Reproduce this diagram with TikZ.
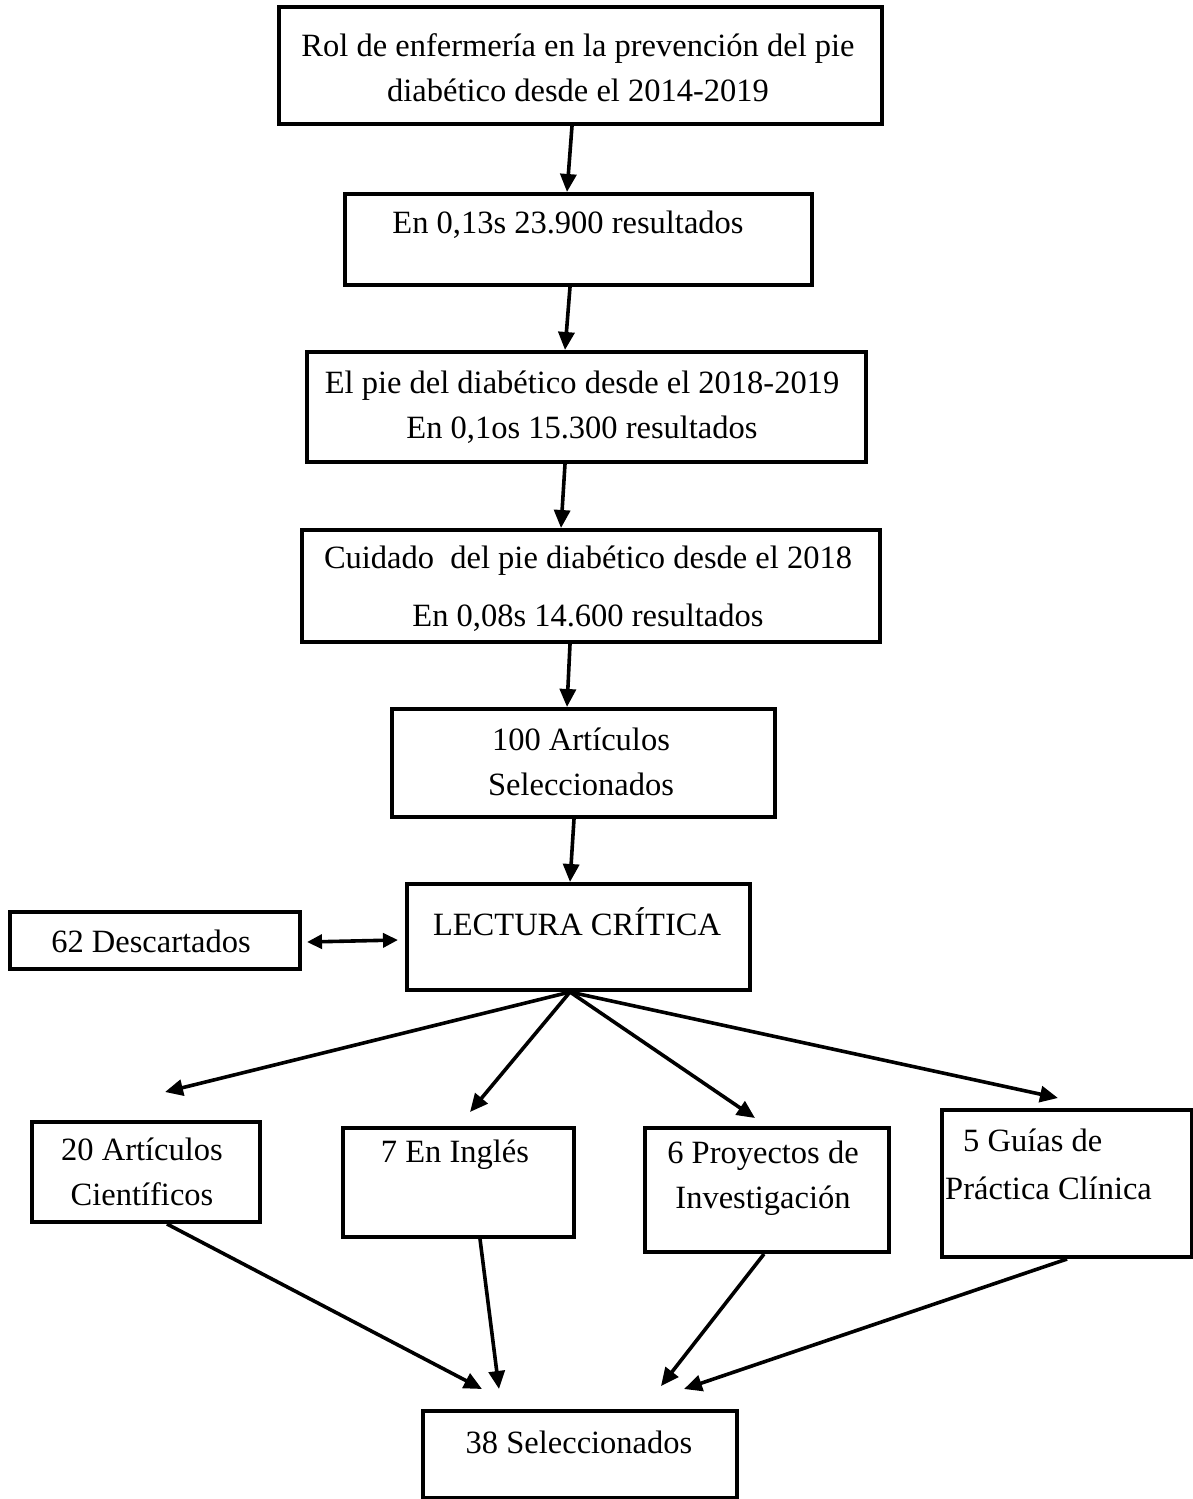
\documentclass[tikz,border=0pt]{standalone}
\usepackage{fontspec}
\setmainfont{Liberation Serif}
\usetikzlibrary{arrows.meta,calc}
\begin{document}
\begin{tikzpicture}[x=1pt,y=-1pt,
  box/.style={draw, line width=4pt, inner sep=0pt, anchor=north west},
  txt/.style={font=\fontsize{32.5}{45}\selectfont, inner sep=0pt, align=center},
  arr/.style={line width=3.6pt, -{Triangle[length=18pt,width=16pt]}},
  darr/.style={line width=3.6pt, {Triangle[length=15pt,width=14pt]}-{Triangle[length=15pt,width=14pt]}},
]
\useasboundingbox (0,0) rectangle (1193,1499);
% boxes
\node[box, minimum width=603pt, minimum height=117pt] (b1) at (277,5) {};
\node[box, minimum width=467pt, minimum height=91pt] (b2) at (343,192) {};
\node[box, minimum width=559pt, minimum height=110pt] (b3) at (305,350) {};
\node[box, minimum width=578pt, minimum height=112pt] (b4) at (300,528) {};
\node[box, minimum width=383pt, minimum height=108pt] (b5) at (390,707) {};
\node[box, minimum width=343pt, minimum height=106pt] (b6) at (405,882) {};
\node[box, minimum width=290pt, minimum height=57pt] (b7) at (8,910) {};
\node[box, minimum width=228pt, minimum height=100pt] (b8) at (30,1120) {};
\node[box, minimum width=231pt, minimum height=109pt] (b9) at (341,1126) {};
\node[box, minimum width=244pt, minimum height=124pt] (b10) at (643,1126) {};
\node[box, minimum width=250pt, minimum height=147pt] (b11) at (940,1108) {};
\node[box, minimum width=314pt, minimum height=87pt] (b12) at (421,1409) {};
% texts
\node[txt] (t1) at (578,67.5) {Rol de enfermería en la prevención del pie\\diabético desde el 2014-2019};
\node[txt] (t2) at (568,225) {En 0,13s 23.900 resultados};
\node[txt] (t3) at (582,407.5) {El pie del diabético desde el 2018-2019\\En 0,1os 15.300 resultados};
\node[txt] (t4) at (588,589) {Cuidado\ \ del pie diabético desde el 2018\\[13pt]En 0,08s 14.600 resultados};
\node[txt] (t5) at (581,762) {100 Artículos\\Seleccionados};
\node[txt] (t6) at (577,922) {LECTURA CRÍTICA};
\node[txt] (t7) at (151,941) {62 Descartados};
\node[txt] (t8) at (142,1171.5) {20 Artículos\\Científicos};
\node[txt] (t9) at (455,1155) {7 En Inglés};
\node[txt] (t10) at (763,1178.5) {6 Proyectos de\\Investigación};
\node[txt, anchor=west] (t11a) at (963,1140) {5 Guías de};
\node[txt, anchor=west] (t11b) at (945,1188) {Práctica Clínica};
\node[txt] (t12) at (579,1442) {38 Seleccionados};
% free ends
\coordinate (e8) at (165,1092);
\coordinate (e9) at (470,1112);
\coordinate (e10) at (755,1118);
\coordinate (e11) at (1058,1098);
\coordinate (f8) at (482,1389);
\coordinate (f9) at (499,1389);
\coordinate (f10) at (661,1386);
\coordinate (f11) at (684,1389);
% arrows
\draw[arr] ([xshift=-8.5pt]b1.south) -- ([xshift=-11.5pt]b2.north);
\draw[arr] ([xshift=-8.5pt]b2.south) -- ([xshift=-21.5pt]b3.north);
\draw[arr] ([xshift=-21.5pt]b3.south) -- ([xshift=-30pt]b4.north);
\draw[arr] ([xshift=-21pt]b4.south) -- ([xshift=-16.5pt]b5.north);
\draw[arr] ([xshift=-9.5pt]b5.south) -- ([xshift=-8.5pt]b6.north);
\draw[darr] ([xshift=5pt,yshift=-1.5pt]b7.east) -- ([xshift=-7pt,yshift=-3pt]b6.west);
\draw[arr] ([xshift=-8.5pt]b6.south) -- (e8);
\draw[arr] ([xshift=-8.5pt]b6.south) -- (e9);
\draw[arr] ([xshift=-8.5pt]b6.south) -- (e10);
\draw[arr] ([xshift=-8.5pt]b6.south) -- (e11);
\draw[arr] ([xshift=21pt]b8.south) -- (f8);
\draw[arr] ([xshift=21.5pt]b9.south) -- (f9);
\draw[arr] ([xshift=-3pt]b10.south) -- (f10);
\draw[arr] ([xshift=0pt]b11.south) -- (f11);
\end{tikzpicture}
\end{document}
